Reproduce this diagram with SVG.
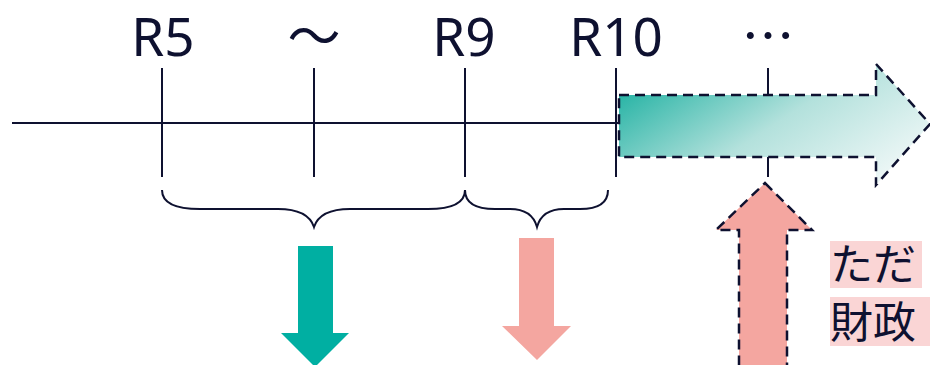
<svg xmlns="http://www.w3.org/2000/svg" width="930" height="365" viewBox="0 0 930 365">
<style>
.ln{stroke:#0e1130;stroke-width:2;fill:none}
.lbl{font-family:"Noto Sans","Noto Sans CJK JP",sans-serif;font-size:53px;fill:#0e1130;text-anchor:middle}
.jp{font-family:"Noto Sans CJK JP",sans-serif;font-size:43px;fill:#0e1130}
.dash{stroke:#0e1130;stroke-width:2.5;stroke-dasharray:10 6}
</style>
<defs>
<linearGradient id="g" x1="0" y1="0.2" x2="1" y2="0.8">
<stop offset="0" stop-color="#22b2a3"/>
<stop offset="0.5" stop-color="#b3e1dc"/>
<stop offset="1" stop-color="#f3f9f9"/>
</linearGradient>
</defs>
<rect width="930" height="365" fill="#fff"/>
<g id="labels">
<text class="lbl" x="163" y="56">R5</text>
<text class="lbl" x="314" y="56" style="font-family:'Noto Sans CJK JP',sans-serif">～</text>
<text class="lbl" x="464" y="56">R9</text>
<text class="lbl" x="616" y="56">R10</text>
<text class="lbl" x="768" y="56" style="font-family:'Noto Sans CJK JP',sans-serif">…</text>
</g>
<g id="timeline">
<line class="ln" x1="12" y1="123" x2="618" y2="123"/>
<line class="ln" x1="162" y1="68" x2="162" y2="177"/>
<line class="ln" x1="314" y1="68" x2="314" y2="177"/>
<line class="ln" x1="465" y1="68" x2="465" y2="177"/>
<line class="ln" x1="616" y1="68" x2="616" y2="177"/>
<line class="ln" x1="768" y1="68" x2="768" y2="177"/>
</g>
<g id="future-arrow">
<path class="dash" d="M619,95 H876 V64 L930,124 L876,185 V157 H619 Z" fill="url(#g)"/>
</g>
<g id="braces">
<path class="ln" d="M162,190 Q162,209 200,209 H278 Q308,209 314,227 Q320,209 350,209 H428 Q465,209 465,190"/>
<path class="ln" d="M465,190 Q465,209 495,209 H510 Q532,209 537,227 Q542,209 564,209 H580 Q608,209 608,190"/>
</g>
<g id="teal-arrow">
<path d="M298,246 H333 V333 H349 L315,367 L281,333 H298 Z" fill="#00afa2"/>
</g>
<g id="pink-arrow">
<path d="M519,238 H554 V326 H571 L537,360 L502,326 H519 Z" fill="#f4a6a0"/>
</g>
<g id="up-arrow">
<path class="dash" d="M765,183 L812,230 H787 V372 H739 V230 H716 Z" fill="#f4a6a0"/>
</g>
<g id="note">
<rect x="830" y="241" width="92" height="47" fill="#fad5d5"/>
<rect x="830" y="297" width="100" height="49" fill="#fad5d5"/>
<text class="jp" x="830" y="280">ただ</text>
<text class="jp" x="830" y="338">財政</text>
</g>
</svg>
